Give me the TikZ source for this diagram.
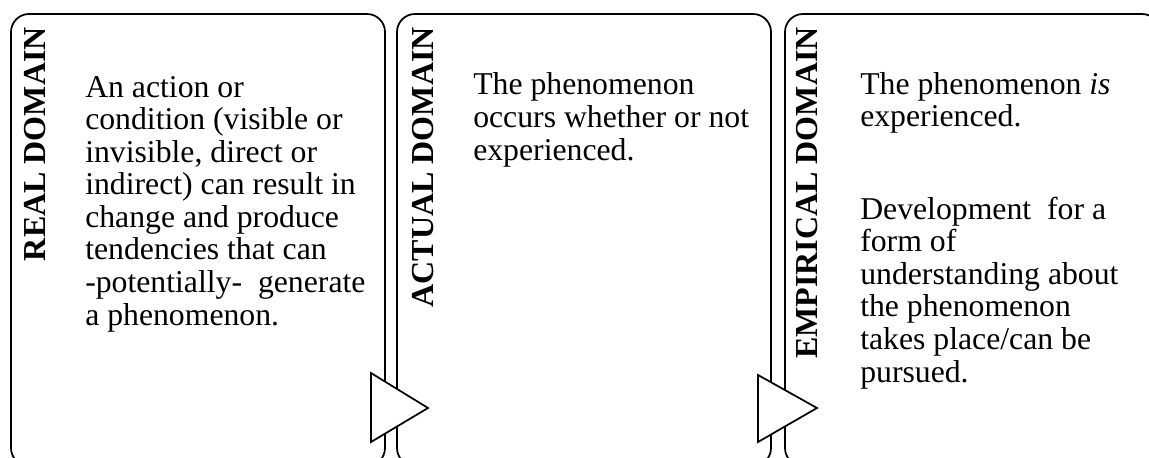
\documentclass[tikz,border=0pt]{standalone}
\usepackage{fontspec}
\setmainfont{Liberation Serif}
\begin{document}
\begin{tikzpicture}[x=0.75pt,y=-0.75pt,
  panelbox/.style={draw=black,line width=1.3pt,rounded corners=13.5pt},
  arrowtri/.style={draw=black,fill=white,line width=1.3pt,line join=miter},
  domlabel/.style={rotate=90,anchor=base east,inner sep=0pt,font=\fontsize{24}{24.4}\selectfont\bfseries},
  bodytext/.style={anchor=base west,inner sep=0pt,align=left,font=\fontsize{23.8}{24.4}\selectfont}]
\clip (0,0) rectangle (1149,457);
\draw[panelbox] (11,14) rectangle (385,466);
\draw[panelbox] (397,14) rectangle (771,466);
\draw[panelbox] (785,14) rectangle (1160,466);
\node[domlabel] (l1) at (45,27) {REAL DOMAIN};
\node[domlabel] (l2) at (433,27) {ACTUAL DOMAIN};
\node[domlabel] (l3) at (817,27) {EMPIRICAL DOMAIN};
\node[bodytext] (t1) at (85,325) {An action or\\condition (visible or\\invisible, direct or\\indirect) can result in\\change and produce\\tendencies that can\\-potentially-\ \ generate\\a phenomenon.};
\node[bodytext] (t2) at (473,160) {The phenomenon\\occurs whether or not\\experienced.};
\node[bodytext] (t3) at (860,382) {The phenomenon \textit{is}\\experienced.\\[45pt]Development\ \ for a\\form of\\understanding about\\the phenomenon\\takes place/can be\\pursued.};
\draw[arrowtri] (371,373) -- (371,442) -- (428,408) -- cycle;
\draw[arrowtri] (758,375) -- (758,442) -- (817,408) -- cycle;
\end{tikzpicture}
\end{document}
